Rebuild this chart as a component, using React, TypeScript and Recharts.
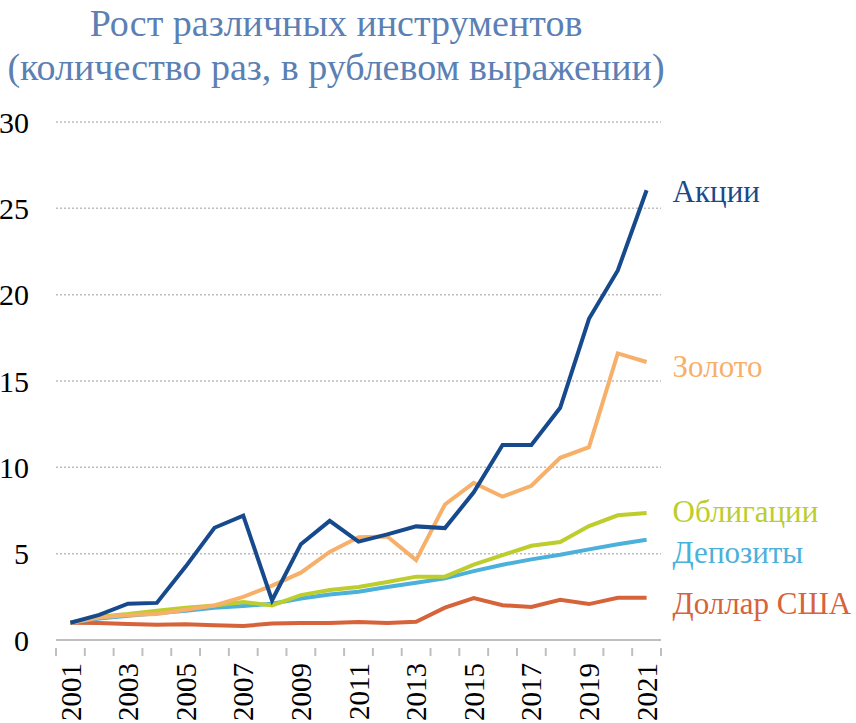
import React from "react";
import { LineChart, Line, XAxis, YAxis, CartesianGrid, LabelList } from "recharts";

const years = ["2001","2002","2003","2004","2005","2006","2007","2008","2009","2010","2011","2012","2013","2014","2015","2016","2017","2018","2019","2020","2021"];
const stocks = [1.0,1.45,2.1,2.15,4.25,6.5,7.2,2.3,5.55,6.9,5.7,6.12,6.58,6.48,8.55,11.3,11.3,13.45,18.6,21.4,26.05];
const gold = [1.0,1.3,1.45,1.5,1.75,2.0,2.5,3.15,3.9,5.1,5.95,6.0,4.63,7.85,9.1,8.3,8.93,10.55,11.17,16.6,16.1];
const bonds = [1.0,1.35,1.5,1.7,1.87,2.0,2.2,2.0,2.6,2.9,3.07,3.36,3.67,3.67,4.36,4.92,5.46,5.67,6.6,7.22,7.35];
const deposits = [1.0,1.25,1.4,1.55,1.7,1.87,1.97,2.1,2.4,2.64,2.8,3.07,3.32,3.57,3.99,4.36,4.67,4.94,5.25,5.54,5.81];
const usd = [1.0,0.98,0.93,0.89,0.91,0.85,0.81,0.95,0.98,0.98,1.04,0.98,1.06,1.87,2.43,2.01,1.91,2.33,2.08,2.45,2.45];
const yTicks = [0,5,10,15,20,25,30];

const seriesNames = ["Акции","Золото","Облигации","Депозиты","Доллар США"];
const titleLines = ["Рост различных инструментов","(количество раз, в рублевом выражении)"];

const data = years.map((y, i) => ({
  year: y,
  stocks: stocks[i],
  gold: gold[i],
  bonds: bonds[i],
  deposits: deposits[i],
  usd: usd[i],
}));

const FONT = "'Liberation Serif', 'Times New Roman', serif";
const PLOT_LEFT = 56;
const PLOT_RIGHT = 661;
const HALF_BAND = (PLOT_RIGHT - PLOT_LEFT) / years.length / 2;

const XTick = (props: any) => {
  const { x, y, payload, index } = props;
  const last = index === years.length - 1;
  const showLabel = index % 2 === 0;
  return (
    <g>
      <line x1={x - HALF_BAND} x2={x - HALF_BAND} y1={y} y2={y + 8} stroke="#bfbfbf" strokeWidth={2} />
      {last && <line x1={x + HALF_BAND} x2={x + HALF_BAND} y1={y} y2={y + 8} stroke="#bfbfbf" strokeWidth={2} />}
      {showLabel && (
        <text
          x={x}
          y={y + 15}
          transform={`rotate(-90 ${x} ${y + 15})`}
          textAnchor="end"
          dy="0.35em"
          fontFamily={FONT}
          fontSize={29}
          fill="#000"
        >
          {payload.value}
        </text>
      )}
    </g>
  );
};

const makeEndLabel = (text: string, color: string, dy: number) => (props: any) => {
  const { x, y, index } = props;
  if (index !== years.length - 1) return null;
  return (
    <text x={x + 26} y={y + dy} dy="0.35em" fontFamily={FONT} fontSize={31} fill={color}>
      {text}
    </text>
  );
};

const series = [
  { key: "stocks", color: "#174a8c", dy: 1 },
  { key: "gold", color: "#f7b06a", dy: 4 },
  { key: "bonds", color: "#bccd2c", dy: -2 },
  { key: "deposits", color: "#4bb0da", dy: 12 },
  { key: "usd", color: "#d7633a", dy: 5 },
];

export default function App() {
  return (
    <div style={{ position: "relative", width: 856, height: 723, background: "#fff", overflow: "hidden" }}>
      <style>{"body{margin:0}"}</style>
      <div
        style={{
          position: "absolute",
          left: 0,
          top: 1,
          width: 672,
          textAlign: "center",
          fontFamily: FONT,
          fontSize: 38,
          lineHeight: "44px",
          color: "#5b80b4",
        }}
      >
        <div>{titleLines[0]}</div>
        <div>{titleLines[1]}</div>
      </div>
      <LineChart
        width={856}
        height={723}
        data={data}
        margin={{ top: 122, right: 856 - PLOT_RIGHT, bottom: 0, left: 0 }}
      >
        <CartesianGrid vertical={false} stroke="#bdbdbd" strokeDasharray="2 2" strokeWidth={1.5} />
        <XAxis
          dataKey="year"
          scale="band"
          interval={0}
          height={83}
          axisLine={{ stroke: "#bfbfbf", strokeWidth: 2 }}
          tickLine={false}
          tick={<XTick />}
        />
        <YAxis
          domain={[0, 30]}
          ticks={yTicks}
          width={PLOT_LEFT}
          axisLine={false}
          tickLine={false}
          tickSize={0}
          tickMargin={27}
          tick={{ fontFamily: FONT, fontSize: 30, fill: "#000" }}
        />
        {series.map((s, i) => (
          <Line
            key={s.key}
            dataKey={s.key}
            type="linear"
            stroke={s.color}
            strokeWidth={4}
            dot={false}
            activeDot={false}
            isAnimationActive={false}
          >
            <LabelList dataKey={s.key} content={makeEndLabel(seriesNames[i], s.color, s.dy)} />
          </Line>
        )).reverse()}
      </LineChart>
    </div>
  );
}
